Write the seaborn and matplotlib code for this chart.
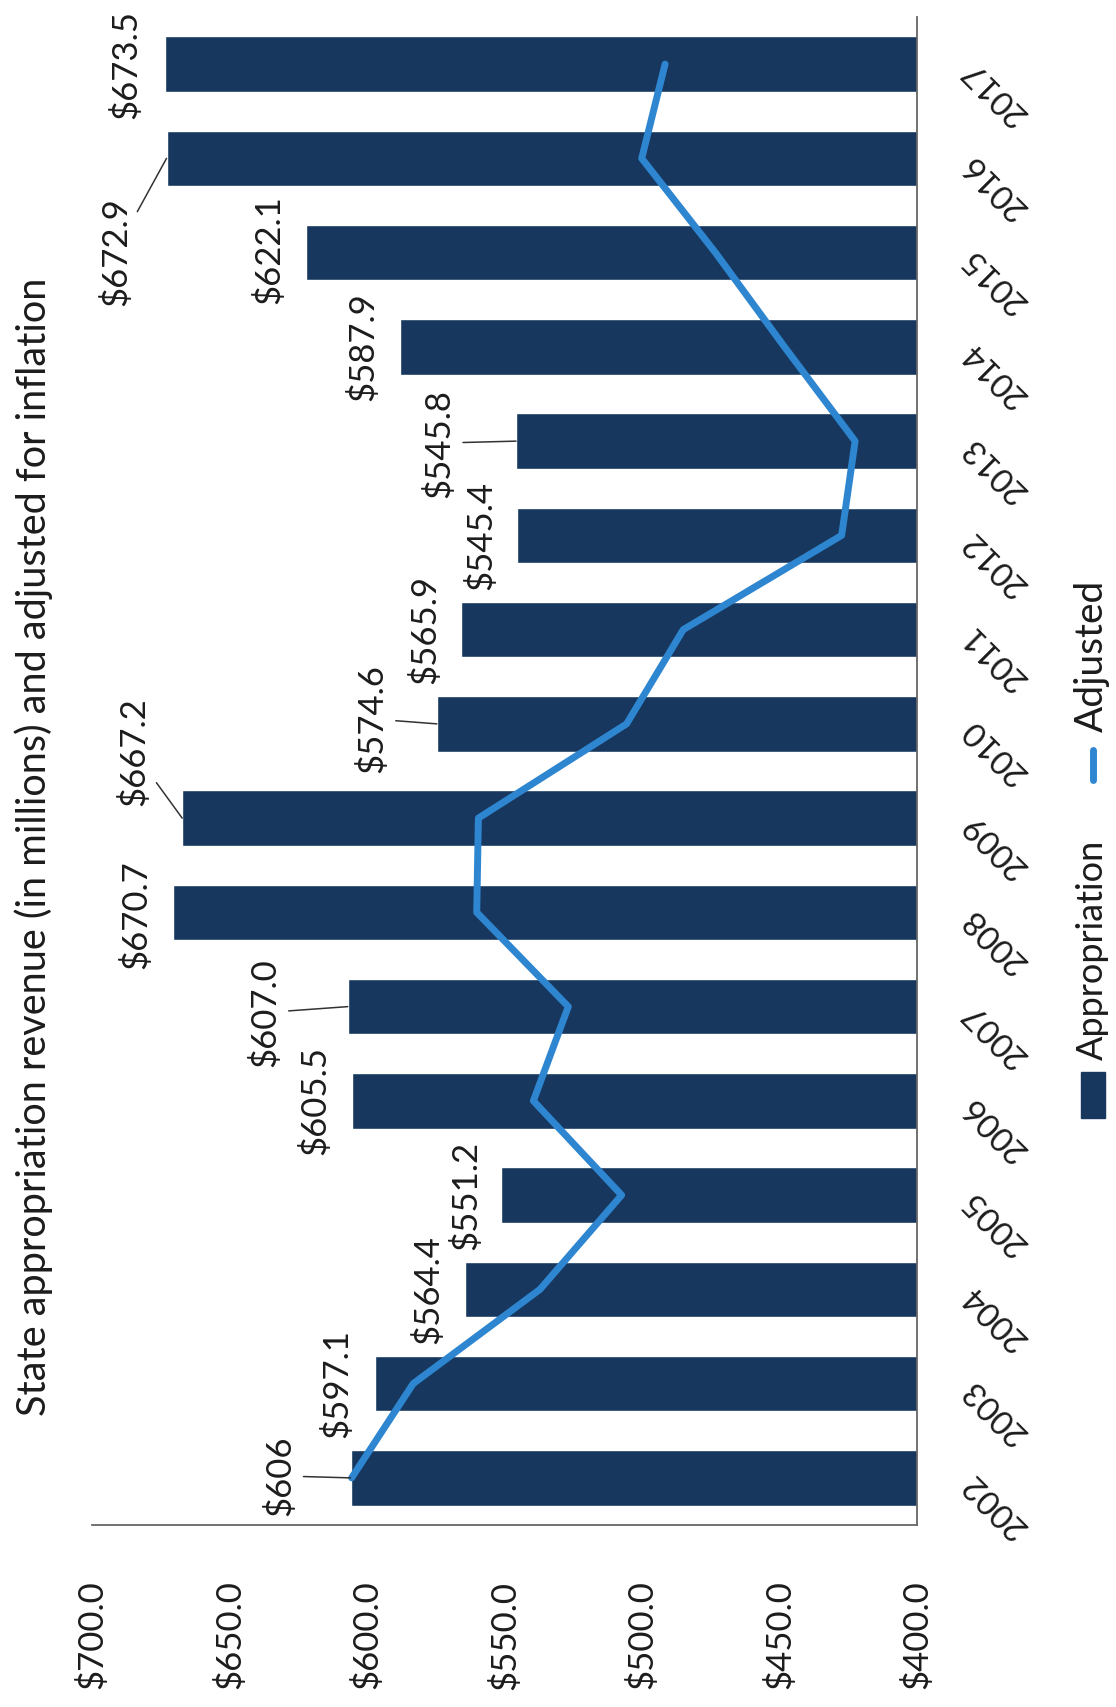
import matplotlib
matplotlib.use("Agg")
import matplotlib.pyplot as plt
import seaborn as sns
import pandas as pd
from matplotlib.patches import Rectangle
from matplotlib.lines import Line2D

# ---------------- data ----------------
years = [str(y) for y in range(2002, 2018)]
appropriation = [606.0, 597.1, 564.4, 551.2, 605.5, 607.0, 670.7, 667.2,
                 574.6, 565.9, 545.4, 545.8, 587.9, 622.1, 672.9, 673.5]
adjusted = [605.6, 583.2, 537.1, 507.4, 539.5, 526.8, 560.1, 559.5,
            505.6, 485.0, 427.4, 422.5, 448.2, 473.3, 500.1, 491.6]
value_labels = ["$606", "$597.1", "$564.4", "$551.2", "$605.5", "$607.0",
                "$670.7", "$667.2", "$574.6", "$565.9", "$545.4", "$545.8",
                "$587.9", "$622.1", "$672.9", "$673.5"]
x_ticks = [400, 450, 500, 550, 600, 650, 700]
x_tick_labels = ["$400.0", "$450.0", "$500.0", "$550.0", "$600.0", "$650.0", "$700.0"]
title = "State appropriation revenue (in millions) and adjusted for inflation"
legend_labels = ["Appropriation", "Adjusted"]

# ---------------- layout (pixels at 100 dpi) ----------------
label_offsets_px = [(-71, -2), (-38, 0), (-37, 0), (-35, 0), (-37, 0), (-83, 6),
                    (-37, 2), (-48, -66), (-65, -5), (-36, 0), (-36, 0), (-77, 2),
                    (-37, 0), (-37, -3), (-51, 93), (-39, 0)]
leader = [True, False, False, False, False, True, False, True, True, False,
          False, True, False, False, True, False]

NAVY = "#17375E"
BLUE = "#2E86D1"
TEXT = "#1c1c1c"
W, H = 1116, 1707

sns.set_theme(style="white")
plt.rcParams["font.family"] = ["Lato", "DejaVu Sans"]

fig = plt.figure(figsize=(W / 100, H / 100), dpi=100)
ax = fig.add_axes([92 / W, 1 - 1525 / H, (917 - 92) / W, (1525 - 17) / H])

df = pd.DataFrame({"year": years, "appropriation": appropriation, "adjusted": adjusted})
order = years[::-1]
sns.barplot(data=df, x="appropriation", y="year", order=order, orient="h",
            color=NAVY, saturation=1, width=0.59, errorbar=None, ax=ax, zorder=2)

pos = {y: i for i, y in enumerate(order)}
ax.plot(df["adjusted"], [pos[y] for y in df["year"]], color=BLUE, lw=5,
        solid_capstyle="round", solid_joinstyle="round", zorder=3)

ax.set_xlim(700, 400)
ax.set_ylim(len(order) - 0.5, -0.5)
ax.set_xlabel("")
ax.set_ylabel("")

ax.set_xticks(x_ticks)
ax.set_xticklabels(x_tick_labels, rotation=90, fontsize=25, color=TEXT)
ax.tick_params(axis="x", length=0, pad=40)

ax.yaxis.tick_right()
ax.set_yticks(range(len(order)))
ax.set_yticklabels(order, rotation=135, ha="right", va="center",
                   rotation_mode="anchor", fontsize=24, color=TEXT)
ax.tick_params(axis="y", length=0, pad=36)

for s in ["left", "top"]:
    ax.spines[s].set_visible(False)
for s in ["right", "bottom"]:
    ax.spines[s].set_visible(True)
    ax.spines[s].set_color("#666666")
    ax.spines[s].set_linewidth(1.3)

px2pt = 72 / 100
for yr, v, lab, (dx, dy), ld in zip(years, appropriation, value_labels,
                                     label_offsets_px, leader):
    ax.annotate(lab, xy=(v, pos[yr]), xytext=(dx * px2pt, -dy * px2pt),
                textcoords="offset points", rotation=90, ha="center", va="center",
                fontsize=25, color=TEXT, annotation_clip=False,
                arrowprops=dict(arrowstyle="-", color="#333333", lw=1.1,
                                shrinkA=3, shrinkB=0) if ld else None)

# title
fig.text(34 / W, 1 - 847 / H, title, rotation=90, ha="center", va="center",
         fontsize=28.5, color=TEXT)

# legend (rotated, drawn manually)
fig.add_artist(Rectangle((1081 / W, 1 - 1118 / H), 24 / W, 46 / H,
                         transform=fig.transFigure, color=NAVY))
fig.text(1092 / W, 1 - 950 / H, legend_labels[0], rotation=90, ha="center",
         va="center", fontsize=26, color=TEXT)
fig.add_artist(Line2D([1093 / W, 1093 / W], [1 - 780 / H, 1 - 750 / H],
                      transform=fig.transFigure, color=BLUE, lw=5,
                      solid_capstyle="round"))
fig.text(1092 / W, 1 - 656 / H, legend_labels[1], rotation=90, ha="center",
         va="center", fontsize=28, color=TEXT)

fig.savefig("out.png", dpi=100)
